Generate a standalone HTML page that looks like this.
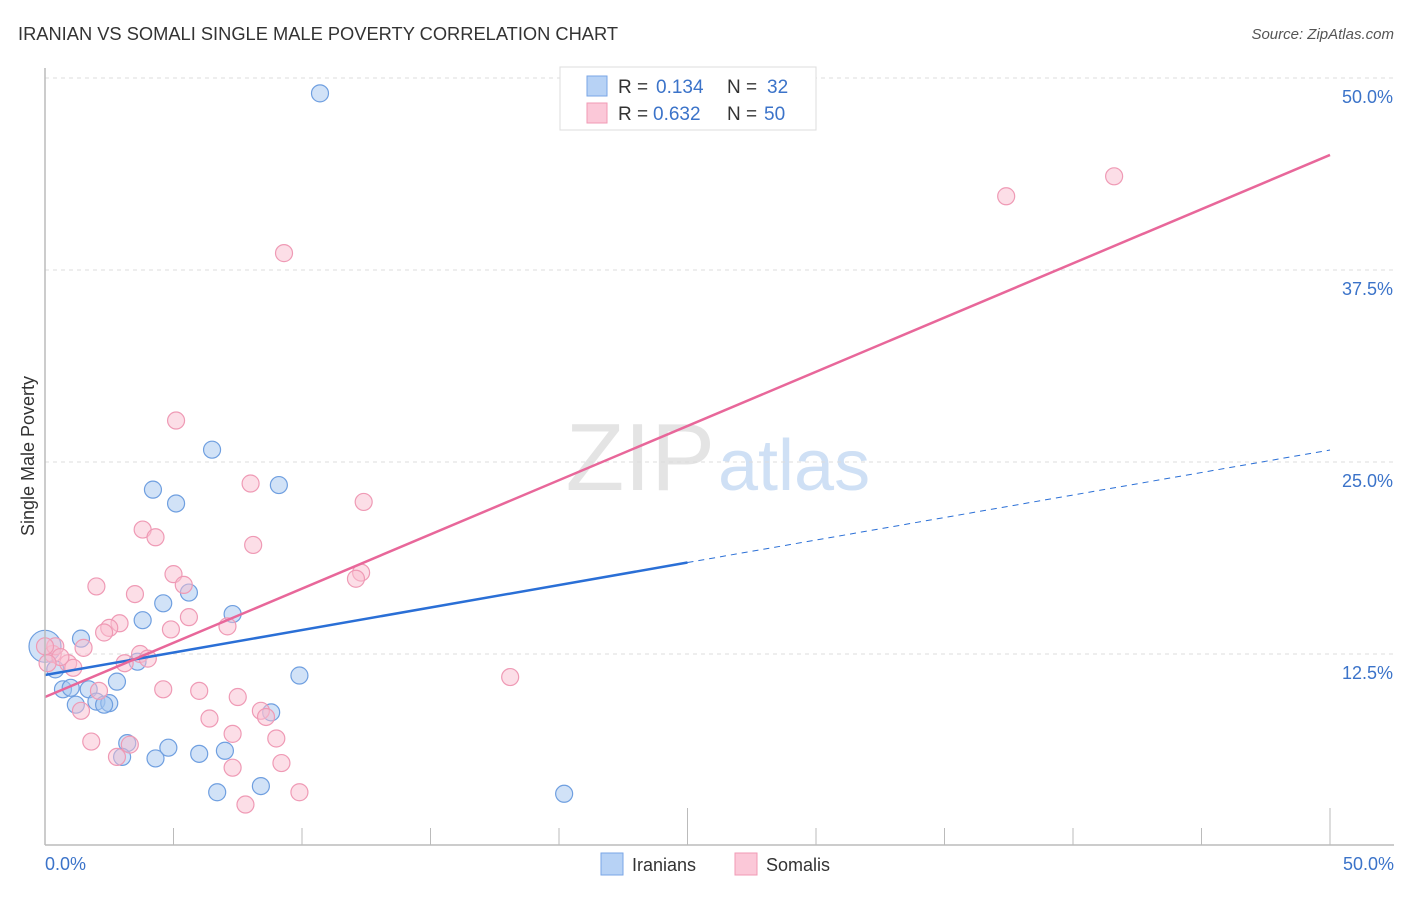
<!DOCTYPE html>
<html><head><meta charset="utf-8"><style>
body{margin:0;background:#fff;font-family:"Liberation Sans",sans-serif}
svg text{font-family:"Liberation Sans",sans-serif}
</style></head><body>
<svg id="c" width="1406" height="892" xmlns="http://www.w3.org/2000/svg">
<text x="18" y="40" font-size="18.3" fill="#333">IRANIAN VS SOMALI SINGLE MALE POVERTY CORRELATION CHART</text>
<text x="1394" y="39" font-size="15" fill="#555" font-style="italic" text-anchor="end">Source: ZipAtlas.com</text>
<text x="715" y="490" font-size="96" fill="#e4e4e4" text-anchor="end" font-family="Liberation Serif">ZIP</text>
<text x="718" y="490" font-size="72" fill="#cfe0f5">atlas</text>
<text transform="translate(34,456) rotate(-90)" font-size="18" fill="#333" text-anchor="middle">Single Male Poverty</text>
<g id="grid"></g><g id="marks"></g><g id="lines"></g>
<line x1="45" y1="68" x2="45" y2="845" stroke="#bbb" stroke-width="1.5"/>
<line x1="45" y1="845" x2="1394" y2="845" stroke="#bbb" stroke-width="1.5"/>
<text x="45" y="870" font-size="18" fill="#3b73c9">0.0%</text>
<text x="1394" y="870" font-size="18" fill="#3b73c9" text-anchor="end">50.0%</text>
<g>
<rect x="560" y="67" width="256" height="63" fill="#fff" stroke="#ddd"/>
<rect x="587" y="76" width="20" height="20" fill="#b7d2f5" stroke="#7aa6e6"/>
<rect x="587" y="103" width="20" height="20" fill="#fbc8d8" stroke="#f09ab5"/>
<text x="618" y="93" font-size="19" fill="#333">R =</text>
<text x="656" y="93" font-size="19" fill="#3b73c9">0.134</text>
<text x="727" y="93" font-size="19" fill="#333">N =</text>
<text x="767" y="93" font-size="19" fill="#3b73c9">32</text>
<text x="618" y="120" font-size="19" fill="#333">R =</text>
<text x="653" y="120" font-size="19" fill="#3b73c9">0.632</text>
<text x="727" y="120" font-size="19" fill="#333">N =</text>
<text x="764" y="120" font-size="19" fill="#3b73c9">50</text>
</g>
<rect x="601" y="853" width="22" height="22" fill="#b7d2f5" stroke="#7aa6e6"/>
<text x="632" y="871" font-size="18" fill="#333">Iranians</text>
<rect x="735" y="853" width="22" height="22" fill="#fbc8d8" stroke="#f09ab5"/>
<text x="766" y="871" font-size="18" fill="#333">Somalis</text>
</svg>
<script>
const yTicks=[12.5,25,37.5,50];
const yTickLabels=["12.5%","25.0%","37.5%","50.0%"];
const xTicks=[0,5,10,15,20,25,30,35,40,45,50];
const iranX=[10.7,6.5,4.2,9.1,5.1,4.6,5.6,3.8,7.3,1.4,0,0.4,3.6,2.8,9.9,0.7,1.0,1.7,2.0,2.5,1.2,2.3,8.8,3.2,4.8,6.0,7.0,3.0,4.3,8.4,6.7,20.2];
const iranY=[49.0,25.8,23.2,23.5,22.3,15.8,16.5,14.7,15.1,13.5,13.0,11.5,12.0,10.7,11.1,10.2,10.3,10.2,9.4,9.3,9.2,9.2,8.7,6.7,6.4,6.0,6.2,5.8,5.7,3.9,3.5,3.4];
const somX=[9.3,41.6,37.4,5.1,8.0,12.4,3.8,4.3,8.1,12.3,12.1,5.0,2.0,5.4,3.5,5.6,2.9,2.5,2.3,7.1,4.9,1.5,3.7,4.0,3.1,0.9,0.3,0.4,0,4.6,6.0,2.1,7.5,8.4,6.4,8.6,1.4,7.3,9.0,1.8,3.3,2.8,9.2,7.3,7.8,9.9,18.1,0.6,0.1,1.1];
const somY=[38.6,43.6,42.3,27.7,23.6,22.4,20.6,20.1,19.6,17.8,17.4,17.7,16.9,17.0,16.4,14.9,14.5,14.2,13.9,14.3,14.1,12.9,12.5,12.2,11.9,11.9,12.5,13.0,13.0,10.2,10.1,10.1,9.7,8.8,8.3,8.4,8.8,7.3,7.0,6.8,6.6,5.8,5.4,5.1,2.7,3.5,11.0,12.3,11.9,11.6];
const iranTrend=[11.13,25.78];
const somTrend=[9.70,44.99];
const X=v=>45+v*25.7, Y=v=>846-v*15.36;
const NS="http://www.w3.org/2000/svg";
function mk(t,a,p){const e=document.createElementNS(NS,t);for(const k in a)e.setAttribute(k,a[k]);p.appendChild(e);return e;}
const g=document.getElementById('grid');
yTicks.forEach((t,i)=>{
 const l=mk('line',{x1:45,x2:1394,y1:Y(t),y2:Y(t),stroke:'#ddd','stroke-dasharray':'4,4'},g);
 
 
 const tx=mk('text',{x:1393,y:Y(t)+25,'font-size':18,fill:'#3b73c9','text-anchor':'end'},g);
 tx.textContent=yTickLabels[i];
 
 
});
xTicks.forEach((t,i)=>{
 const l=mk('line',{x1:X(t),x2:X(t),y1:(t==25||t==50)?808:828,y2:845,stroke:'#bbb'},g);
 
 
});
const m=document.getElementById('marks');
iranX.forEach((x,i)=>{
 const big=(x==0);
 const c=mk('circle',{cx:X(x),cy:Y(iranY[i]),r:big?16:8.5,fill:'rgba(164,197,240,0.5)',stroke:'#6f9fe0','stroke-width':1.2},m);
 
 
});
somX.forEach((x,i)=>{
 const c=mk('circle',{cx:X(x),cy:Y(somY[i]),r:8.5,fill:'rgba(250,190,208,0.5)',stroke:'#ef9ab5','stroke-width':1.2},m);
 
 
});
const L=document.getElementById('lines');
const fy=(tr,x)=>tr[0]+(tr[1]-tr[0])*x/50;
let a=mk('line',{x1:X(0),y1:Y(fy(iranTrend,0)),x2:X(25),y2:Y(fy(iranTrend,25)),stroke:'#2a6fd6','stroke-width':2.5},L);


a=mk('line',{x1:X(25),y1:Y(fy(iranTrend,25)),x2:X(50),y2:Y(fy(iranTrend,50)),stroke:'#2a6fd6','stroke-width':1,'stroke-dasharray':'6,5'},L);


a=mk('line',{x1:X(0),y1:Y(fy(somTrend,0)),x2:X(50),y2:Y(fy(somTrend,50)),stroke:'#e8679a','stroke-width':2.5},L);


</script>
</body></html>
